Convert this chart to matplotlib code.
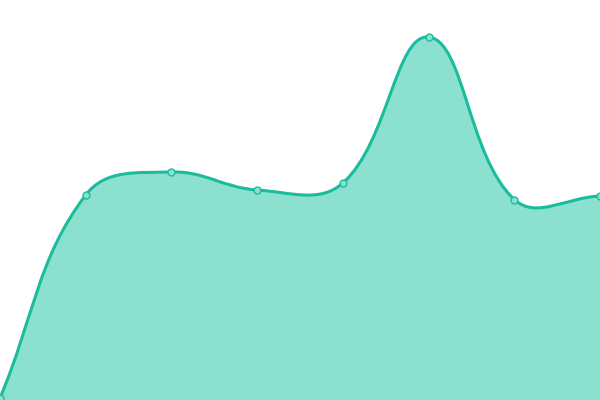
import matplotlib
matplotlib.use("Agg")
import matplotlib.pyplot as plt
import numpy as np
from matplotlib.path import Path
from matplotlib.patches import PathPatch

# values (0..400 scale, no visible axes)
labels = ["A", "B", "C", "D", "E", "F", "G", "H"]
values = [2, 205, 228, 210, 217, 363, 200.5, 204]

LINE = "#1abc9c"
FILL = "#8ce0d0"
TENSION = 0.4


def spline_controls(px, py, t):
    # cardinal-style control points (chart.js splineCurve)
    n = len(px)
    ctrl = []
    for i in range(n):
        p0 = (px[max(i - 1, 0)], py[max(i - 1, 0)])
        p1 = (px[i], py[i])
        p2 = (px[min(i + 1, n - 1)], py[min(i + 1, n - 1)])
        d01 = np.hypot(p1[0] - p0[0], p1[1] - p0[1])
        d12 = np.hypot(p2[0] - p1[0], p2[1] - p1[1])
        tot = d01 + d12
        s01 = d01 / tot if tot else 0
        s12 = d12 / tot if tot else 0
        fa, fb = t * s01, t * s12
        prev_c = (p1[0] - fa * (p2[0] - p0[0]), p1[1] - fa * (p2[1] - p0[1]))
        next_c = (p1[0] + fb * (p2[0] - p0[0]), p1[1] + fb * (p2[1] - p0[1]))
        ctrl.append((prev_c, next_c))
    return ctrl


fig = plt.figure(figsize=(6, 4), dpi=100)
ax = fig.add_axes([0, 0, 1, 1])
ax.set_xlim(0, len(values) - 1)
ax.set_ylim(0, 400)
ax.axis("off")

x = np.arange(len(values))
pix = ax.transData.transform(np.column_stack([x, values]))
ctrl = spline_controls(pix[:, 0], pix[:, 1], TENSION)

inv = ax.transData.inverted()
verts = [tuple(pix[0])]
codes = [Path.MOVETO]
for i in range(len(values) - 1):
    verts += [ctrl[i][1], ctrl[i + 1][0], tuple(pix[i + 1])]
    codes += [Path.CURVE4] * 3
verts = [tuple(inv.transform(v)) for v in verts]

line_path = Path(verts, codes)
fill_verts = verts + [(x[-1], 0), (x[0], 0), verts[0]]
fill_codes = codes + [Path.LINETO, Path.LINETO, Path.CLOSEPOLY]
ax.add_patch(PathPatch(Path(fill_verts, fill_codes), facecolor=FILL,
                       edgecolor="none", zorder=1))
ax.add_patch(PathPatch(line_path, facecolor="none", edgecolor=LINE,
                       linewidth=2.2, zorder=2, clip_on=False))
ax.plot(x, values, "o", markersize=5, markerfacecolor=FILL,
        markeredgecolor=LINE, markeredgewidth=1, zorder=3, clip_on=False)

plt.savefig("out.png", dpi=100)
